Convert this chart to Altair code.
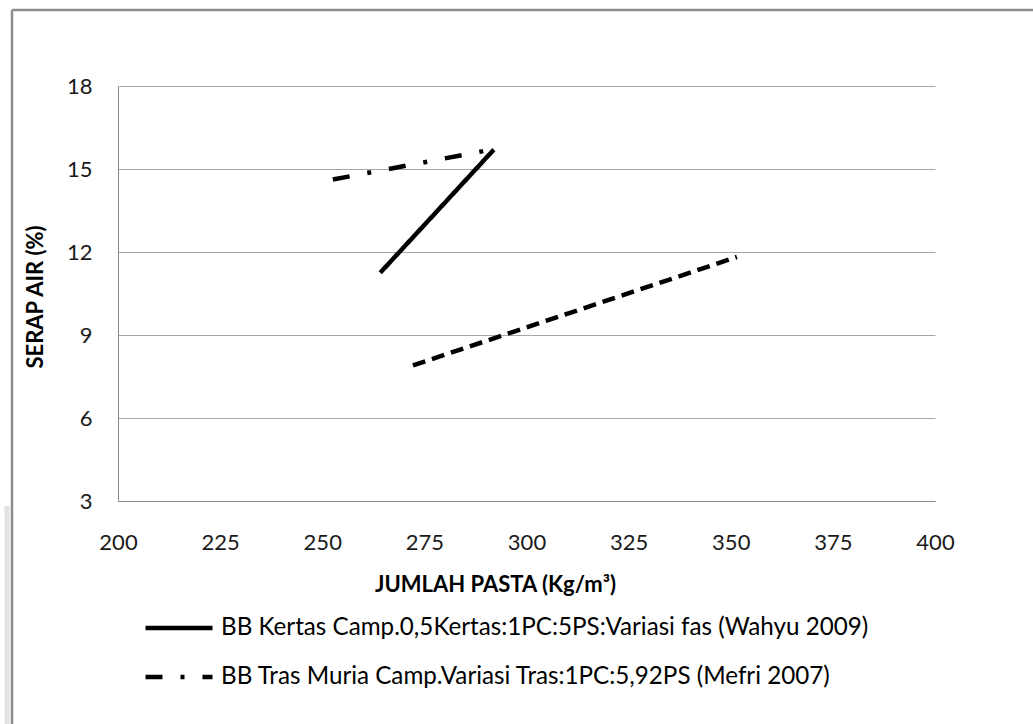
import altair as alt
import pandas as pd

# ---- data ----
series_names = [
    "BB Kertas Camp.0,5Kertas:1PC:5PS:Variasi fas (Wahyu 2009)",
    "BB Tras Muria Camp.Variasi Tras:1PC:5,92PS (Mefri 2007)",
    "Series 3",
]
solid_x = [264.2, 292.0]
solid_y = [11.25, 15.70]
dashdot_x = [252.6, 293.5]
dashdot_y = [14.62, 15.76]
dashed_x = [272.2, 351.5]
dashed_y = [7.90, 11.82]

x_ticks = [200, 225, 250, 275, 300, 325, 350, 375, 400]
y_ticks = [3, 6, 9, 12, 15, 18]

rows = []
for name, xs, ys in [
    (series_names[0], solid_x, solid_y),
    (series_names[1], dashdot_x, dashdot_y),
    (series_names[2], dashed_x, dashed_y),
]:
    for i, (xv, yv) in enumerate(zip(xs, ys)):
        rows.append({"series": name, "x": xv, "y": yv, "order": i})
df = pd.DataFrame(rows)

FONT = "Lato"
W, H = 817, 415

lines = alt.Chart(df).mark_line(strokeWidth=4.5, color="black", strokeCap="butt").encode(
    x=alt.X("x:Q",
            scale=alt.Scale(domain=[200, 400], nice=False, zero=False),
            axis=alt.Axis(values=x_ticks, title="JUMLAH PASTA (Kg/m³)", grid=False,
                          tickSize=0, labelPadding=31, domainColor="#8a8a8a",
                          labelFlush=False,
                          titleX=377, titleY=90, titleBaseline="alphabetic",
                          titleAnchor=None)),
    y=alt.Y("y:Q",
            scale=alt.Scale(domain=[3, 18], nice=False, zero=False),
            axis=alt.Axis(values=y_ticks, title="SERAP AIR (%)", grid=True,
                          gridColor="#a6a6a6", tickSize=0, labelPadding=26,
                          domainColor="#8a8a8a", labelFlush=False,
                          titleX=-76, titleY=210.5, titleAngle=-90,
                          titleBaseline="alphabetic", titleAlign="center")),
    strokeDash=alt.StrokeDash(
        "series:N",
        scale=alt.Scale(domain=series_names,
                        range=[[1, 0], [17, 18, 4, 18], [13, 7]]),
        legend=alt.Legend(values=series_names[:2], title=None, orient="none",
                          legendX=25, legendY=506, symbolType="stroke",
                          symbolSize=4489, symbolStrokeWidth=4.5,
                          symbolStrokeColor="black", rowPadding=-33,
                          labelOffset=6, labelFontSize=24.2, labelFont=FONT,
                          labelColor="black", labelLimit=900)),
    detail="series:N",
    order="order:Q",
)

decor = pd.DataFrame({"k": [0]})
border_top = alt.Chart(decor).mark_rule(color="#8c8c8c", strokeWidth=2.5).encode(
    x=alt.value(-106), x2=alt.value(915), y=alt.value(-76))
border_left = alt.Chart(decor).mark_rule(color="#8c8c8c", strokeWidth=2.5).encode(
    x=alt.value(-106), y=alt.value(-76), y2=alt.value(638))
shadow = alt.Chart(decor).mark_rule(color="#e2e2e2", strokeWidth=5).encode(
    x=alt.value(-111), y=alt.value(420), y2=alt.value(638))

chart = alt.layer(shadow, border_top, border_left, lines).properties(
    width=W, height=H,
    autosize=alt.AutoSizeParams(type="none"),
    padding={"left": 118, "top": 86, "right": 98, "bottom": 223},
    background="white",
).configure_view(stroke=None).configure_axis(
    labelFont=FONT, labelFontSize=22, labelColor="#1a1a1a",
    titleFont=FONT, titleFontSize=22, titleFontWeight="bold", titleColor="black",
    domainWidth=1, gridWidth=1,
)

chart.save("out.html", embed_options={"renderer": "svg", "actions": False})
